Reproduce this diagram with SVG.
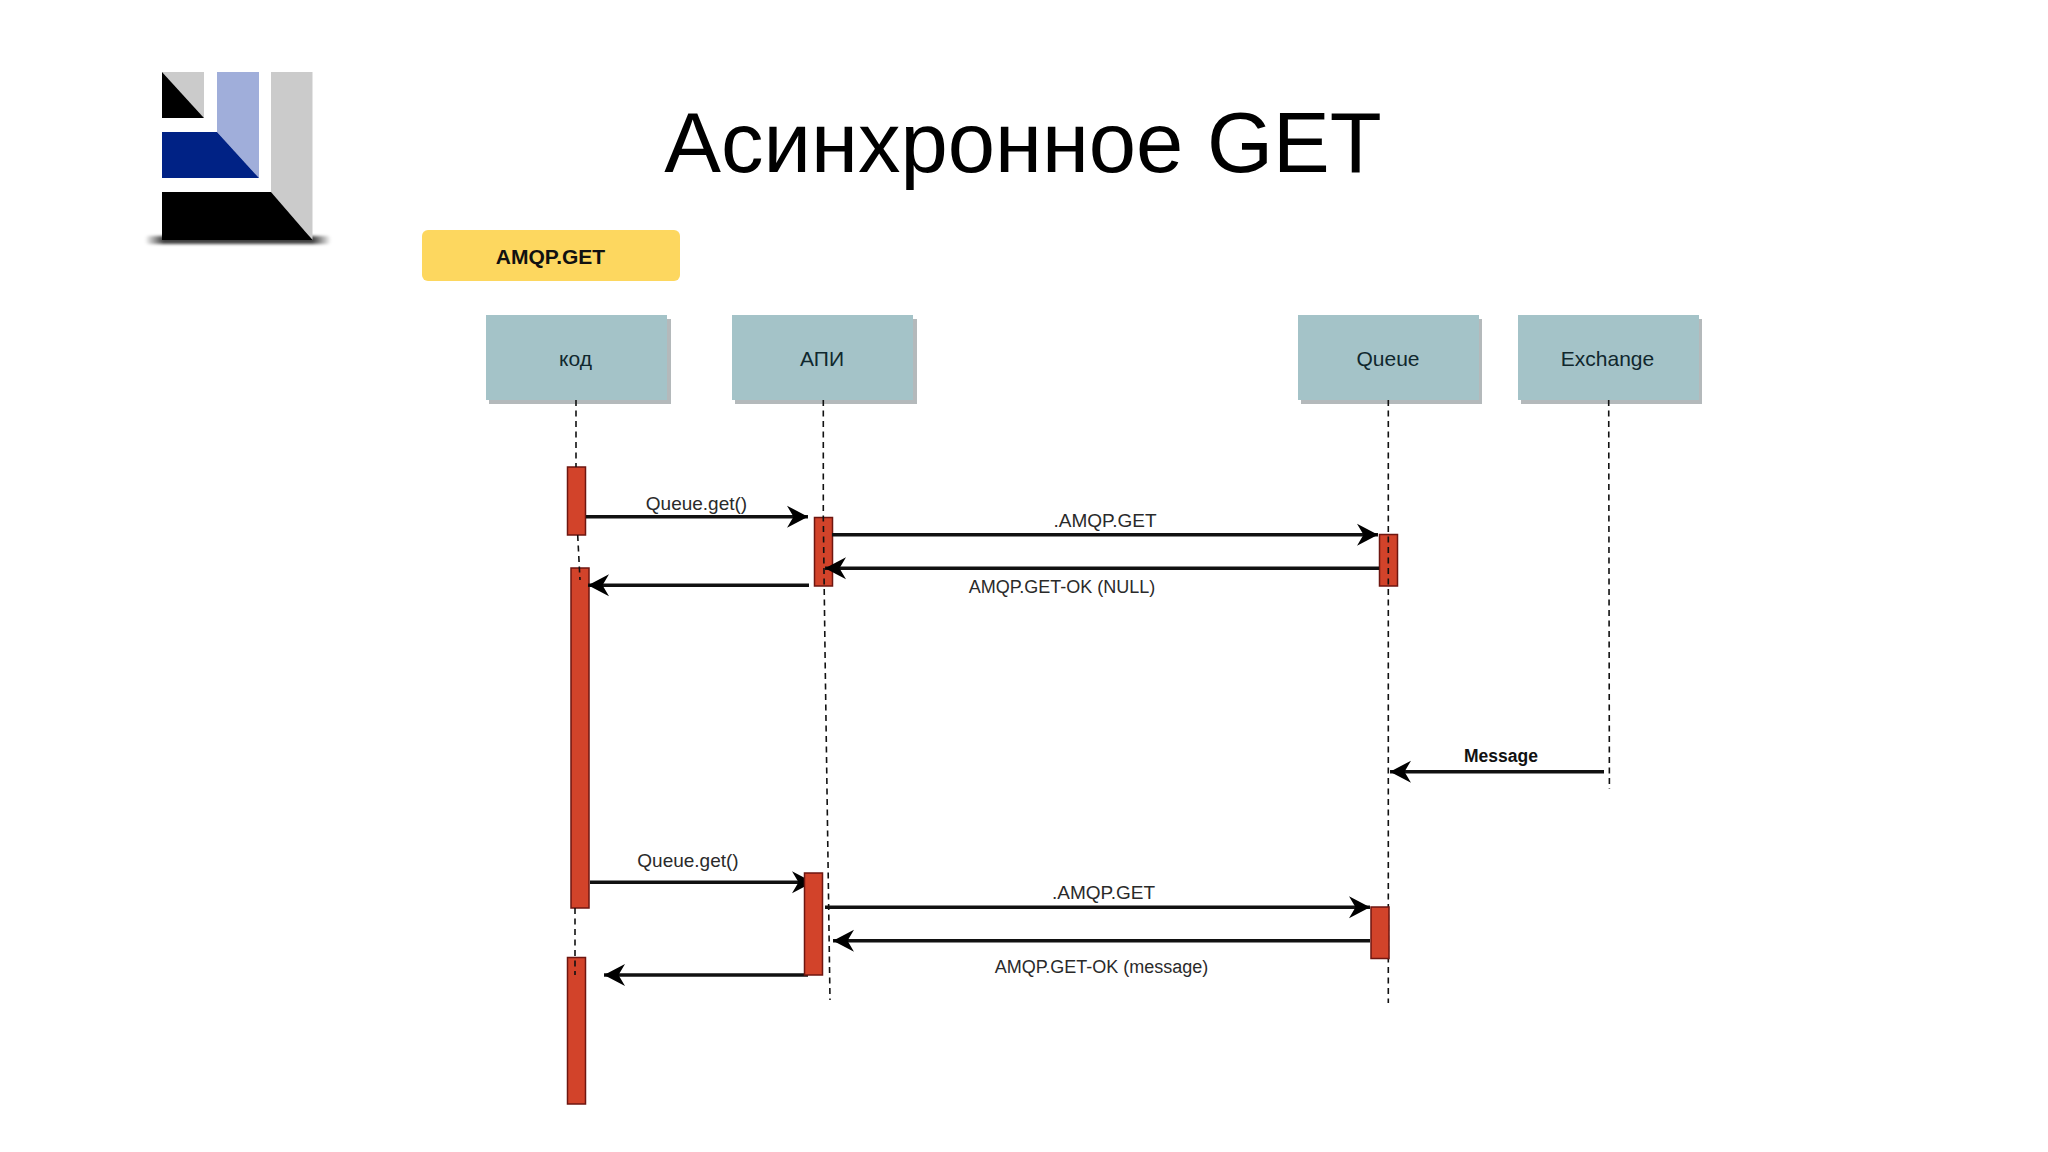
<svg xmlns="http://www.w3.org/2000/svg" width="2048" height="1152" viewBox="0 0 2048 1152">
<defs>
<marker id="head" markerUnits="userSpaceOnUse" markerWidth="26" markerHeight="26" viewBox="-23 -13 26 26" refX="0" refY="0" orient="auto">
<path d="M0 0L-21 -11L-14.500 0L-21 11Z" fill="#000"/>
</marker>
<linearGradient id="shade" x1="0" x2="1" y1="0" y2="0">
<stop offset="0" stop-color="#000" stop-opacity="0"/><stop offset="0.1" stop-color="#000" stop-opacity=".75"/><stop offset="0.9" stop-color="#000" stop-opacity=".75"/><stop offset="1" stop-color="#000" stop-opacity="0"/>
</linearGradient>
<filter id="soft" x="-5%" y="-5%" width="110%" height="110%"><feGaussianBlur stdDeviation="0.5"/></filter>
<filter id="softer" x="-5%" y="-100%" width="110%" height="300%"><feGaussianBlur stdDeviation="1.5"/></filter>
</defs>
<style>
text{font-family:"Liberation Sans",Arial,sans-serif;text-anchor:middle;fill:#222}
.title{font-size:85px;fill:#000}
.head{font-size:21px;fill:#10282e}
.msg{font-size:19px;fill:#2a2a2a}
.long{font-size:18px}
.strong{font-weight:bold;fill:#111}
.badge-text{font-size:21px}
.msg-strong{font-size:17.500px}
.box{fill:#a4c3c8;filter:url(#soft)}
.shadow{fill:#b4b9bb;filter:url(#soft)}
.act{fill:#d2432a;stroke:#6e1610;stroke-width:1.500}
.life{fill:none;stroke:#111;stroke-width:1.600;stroke-dasharray:6 4.500}
.arrow{fill:none;stroke:#111;stroke-width:3.500;marker-end:url(#head)}
</style>
<rect width="2048" height="1152" fill="#fff"/>
<text class="title" x="1023" y="172">Асинхронное GET</text>
<g id="logo" filter="url(#soft)">
<rect x="145" y="236" width="186" height="8" rx="4" fill="url(#shade)" filter="url(#softer)"/>
<polygon points="162,72 204,72 204,118" fill="#cbcbcb"/>
<polygon points="162,72 204,118 162,118" fill="#000"/>
<polygon points="217,72 259,72 259,178 217,132" fill="#a0aeda"/>
<polygon points="162,132 217,132 259,178 162,178" fill="#022385"/>
<polygon points="271,72 312.500,72 312.500,240 271,192" fill="#cbcbcb"/>
<polygon points="162,192 271,192 312.500,240 162,240" fill="#000"/>
</g>
<g id="badge">
<rect x="422" y="230" width="258" height="51" rx="6" fill="#fdd75e" filter="url(#soft)"/>
<text class="strong badge-text" x="550.500" y="264">AMQP.GET</text>
</g>
<g id="node-kod"><rect class="shadow" x="489" y="319" width="182" height="85"/><rect class="box" x="486" y="315" width="181" height="85"/><text class="head" x="575.500" y="366">код</text></g>
<g id="node-api"><rect class="shadow" x="735" y="319" width="182" height="85"/><rect class="box" x="732" y="315" width="181" height="85"/><text class="head" x="822" y="366">АПИ</text></g>
<g id="node-queue"><rect class="shadow" x="1301" y="319" width="181" height="85"/><rect class="box" x="1298" y="315" width="181" height="85"/><text class="head" x="1388" y="366">Queue</text></g>
<g id="node-exchange"><rect class="shadow" x="1521" y="319" width="181" height="85"/><rect class="box" x="1518" y="315" width="181" height="85"/><text class="head" x="1607.500" y="366">Exchange</text></g>
<g id="act-kod-1"><rect class="act" x="567.500" y="467" width="18" height="68"/></g>
<g id="act-kod-2"><rect class="act" x="571" y="568" width="18" height="340"/></g>
<g id="act-kod-3"><rect class="act" x="567.500" y="957.500" width="18" height="146.500"/></g>
<g id="act-api-1"><rect class="act" x="814.500" y="517.500" width="18" height="68.500"/></g>
<g id="act-queue-1"><rect class="act" x="1379.500" y="534.500" width="18" height="51.500"/></g>
<g id="connectors">
<path class="life" d="M576 400V467"/>
<path class="life" d="M577.700 535L580 580"/>
<path class="life" d="M575 908V975"/>
<path class="life" d="M823.300 400V517L825 650L830 1000"/>
<path class="life" d="M1388.300 400V1003"/>
<path class="life" stroke-dasharray="5 4" d="M1608.700 400L1609.400 789"/>
<path class="arrow" d="M586 516.700H808"/>
<path class="arrow" d="M832 534.700H1378"/>
<path class="arrow" d="M1379 568.300H825"/>
<path class="arrow" d="M809 585.300H588"/>
<path class="arrow" d="M1604 771.700H1390"/>
<path class="arrow" d="M590 882.300H813"/>
<path class="arrow" d="M825 907.300H1370"/>
<path class="arrow" d="M1370 940.700H833"/>
<path class="arrow" d="M808 975H604"/>
</g>
<g id="act-api-2"><rect class="act" x="804.500" y="873" width="18" height="102"/></g>
<g id="act-queue-2"><rect class="act" x="1371" y="907" width="18" height="51.500"/></g>
<g id="labels">
<text class="msg" x="696.500" y="510">Queue.get()</text>
<text class="msg" x="1105" y="527">.AMQP.GET</text>
<text class="msg long" x="1062" y="593">AMQP.GET-OK (NULL)</text>
<text class="msg strong msg-strong" x="1501" y="762">Message</text>
<text class="msg" x="688" y="867">Queue.get()</text>
<text class="msg" x="1103.500" y="899">.AMQP.GET</text>
<text class="msg long" x="1101.500" y="973">AMQP.GET-OK (message)</text>
</g>
</svg>
